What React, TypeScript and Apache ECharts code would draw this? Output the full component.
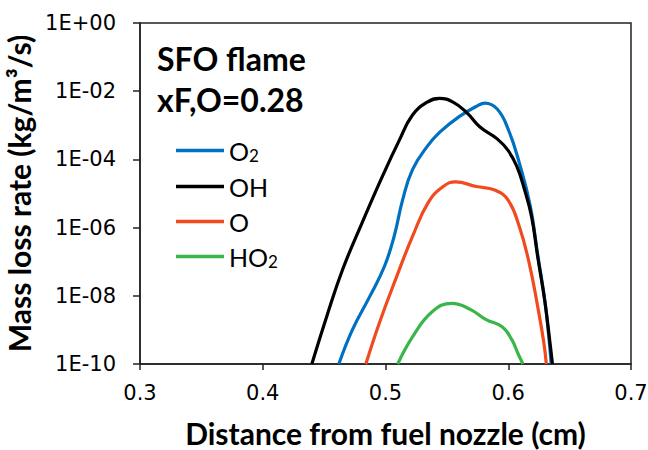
import React, { useEffect, useRef } from "react";
import * as echarts from "echarts";

// Distance from fuel nozzle (cm) and mass loss rate (kg/m3/s) per species
const o2X = [0.462, 0.473, 0.487, 0.499, 0.507, 0.514, 0.522, 0.534, 0.544, 0.560, 0.574, 0.581, 0.591, 0.600, 0.609, 0.618, 0.624, 0.630, 0.635];
const o2Y = [1e-10, 1.0e-9, 9.3e-9, 7.1e-8, 5.5e-7, 6.6e-6, 5.0e-5, 2.4e-4, 6.2e-4, 1.8e-3, 3.6e-3, 4.5e-3, 3.0e-3, 7.6e-4, 7.9e-5, 4.2e-6, 1.6e-7, 6.3e-9, 1e-10];

const ohX = [0.440, 0.452, 0.465, 0.481, 0.498, 0.511, 0.522, 0.534, 0.544, 0.555, 0.566, 0.577, 0.591, 0.600, 0.607, 0.613, 0.619, 0.624, 0.630, 0.634, 0.636];
const ohY = [1e-10, 2.4e-9, 5.8e-8, 1.4e-6, 3.5e-5, 3.5e-4, 2.0e-3, 4.8e-3, 6.2e-3, 4.8e-3, 2.4e-3, 8.9e-4, 4.0e-4, 1.8e-4, 6.2e-5, 1.4e-5, 2.1e-6, 1.4e-7, 6.2e-9, 4.2e-10, 1e-10];

const oX = [0.484, 0.495, 0.509, 0.522, 0.535, 0.547, 0.557, 0.574, 0.589, 0.600, 0.609, 0.617, 0.624, 0.629, 0.631];
const oY = [1e-10, 1.6e-9, 3.6e-8, 5.5e-7, 5.6e-6, 1.6e-5, 2.2e-5, 1.6e-5, 1.26e-5, 6.3e-6, 1.07e-6, 9.3e-8, 4.8e-9, 4.2e-10, 1e-10];

const ho2X = [0.510, 0.522, 0.538, 0.554, 0.569, 0.582, 0.595, 0.603, 0.608, 0.612];
const ho2Y = [1e-10, 6.2e-10, 3.4e-9, 6.0e-9, 4.0e-9, 2.0e-9, 1.23e-9, 5.1e-10, 2.0e-10, 1e-10];

const seriesNames = ["O₂", "OH", "O", "HO₂"];
const seriesColors = ["#0070C0", "#000000", "#F04A1E", "#3AB54A"];

const xTickMin = 0.3;
const xTickMax = 0.7;
const yMin = 1e-10;
const yMax = 1;

const BOLD_FONT = "Lato";
const TICK_FONT = "DejaVu Sans";

function zip(xs: number[], ys: number[]) {
  return xs.map((x, i) => [x, ys[i]]);
}

export default function App() {
  const ref = useRef<HTMLDivElement>(null);
  useEffect(() => {
    if (!ref.current) return;
    const chart = echarts.init(ref.current, null, { renderer: "svg" });
    const datasets = [zip(o2X, o2Y), zip(ohX, ohY), zip(oX, oY), zip(ho2X, ho2Y)];
    const drawOrder = [0, 2, 3, 1];
    chart.setOption({
      animation: false,
      backgroundColor: "#ffffff",
      textStyle: { fontFamily: BOLD_FONT },
      title: {
        text: "SFO flame\nxF,O=0.28",
        left: 157,
        top: 38,
        padding: 0,
        textStyle: {
          fontFamily: BOLD_FONT,
          fontWeight: "bold",
          fontSize: 32,
          lineHeight: 41,
          color: "#000",
        },
      },
      legend: {
        orient: "vertical",
        left: 176,
        top: 138,
        icon: "rect",
        itemWidth: 48,
        itemHeight: 3.5,
        itemGap: 10,
        padding: 0,
        data: seriesNames,
        formatter: (name: string) =>
          name.split("₂").join("{s|2}").replace(/^([^{]+)/, "{n|$1}"),
        textStyle: {
          fontFamily: BOLD_FONT,
          fontSize: 25,
          color: "#000",
          rich: {
            n: { fontFamily: BOLD_FONT, fontSize: 25, color: "#000", lineHeight: 29 },
            s: { fontFamily: BOLD_FONT, fontSize: 17, color: "#000", padding: [10, 0, 0, 0] },
          },
        },
      },
      grid: {
        left: 140,
        right: 17,
        top: 23,
        bottom: 86,
        show: true,
        borderColor: "#222",
        borderWidth: 1.5,
        containLabel: false,
        outerBoundsMode: "none",
      },
      xAxis: {
        type: "value",
        min: xTickMin,
        max: xTickMax,
        interval: 0.1,
        name: "Distance from fuel nozzle (cm)",
        nameLocation: "middle",
        nameGap: 54,
        nameTextStyle: { fontFamily: BOLD_FONT, fontWeight: "bold", fontSize: 30, lineHeight: 30, color: "#000" },
        axisLine: { lineStyle: { color: "#222", width: 1.5 } },
        axisTick: { show: true, inside: false, length: 6, lineStyle: { color: "#222", width: 1.5 } },
        axisLabel: {
          fontFamily: TICK_FONT,
          fontSize: 21,
          color: "#000",
          margin: 18,
          formatter: (v: number) => v.toFixed(1),
        },
        splitLine: { show: false },
      },
      yAxis: {
        type: "log",
        logBase: 10,
        min: yMin,
        max: yMax,
        interval: 2,
        name: "Mass loss rate (kg/m³/s)",
        nameLocation: "middle",
        nameGap: 100,
        nameTextStyle: { fontFamily: BOLD_FONT, fontWeight: "bold", fontSize: 30, color: "#000" },
        axisLine: { show: true, lineStyle: { color: "#222", width: 1.5 } },
        axisTick: { show: true, inside: false, length: 7, lineStyle: { color: "#222", width: 1.5 } },
        axisLabel: {
          fontFamily: TICK_FONT,
          fontSize: 21,
          color: "#000",
          margin: 24,
          formatter: (v: number) => {
            const e = Math.round(Math.log10(v));
            return "1E" + (e >= 0 ? "+" : "-") + String(Math.abs(e)).padStart(2, "0");
          },
        },
        splitLine: { show: false },
      },
      series: drawOrder.map((i) => ({
        name: seriesNames[i],
        type: "line",
        data: datasets[i],
        symbol: "none",
        smooth: 0.45,
        clip: true,
        lineStyle: { color: seriesColors[i], width: 3.2 },
        itemStyle: { color: seriesColors[i] },
        z: i === 1 ? 3 : 2,
      })),
    });
    return () => chart.dispose();
  }, []);
  return <div ref={ref} style={{ width: 648, height: 450, position: "absolute", left: 0, top: 0 }} />;
}
